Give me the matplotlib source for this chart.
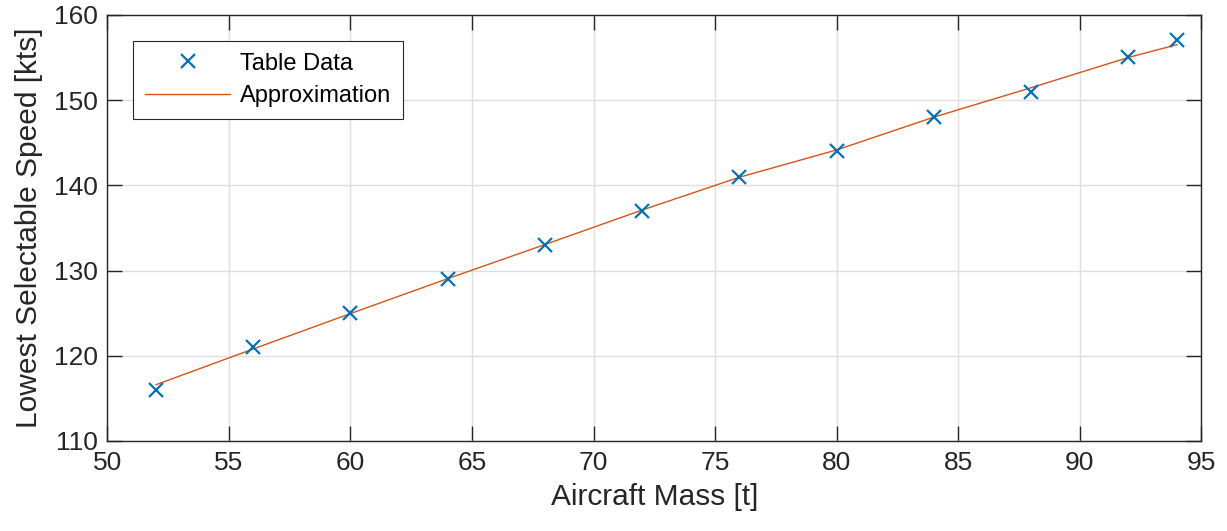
import matplotlib
matplotlib.use("Agg")
import matplotlib.pyplot as plt

# Table data: aircraft mass [t] vs lowest selectable speed [kts]
mass = [52, 56, 60, 64, 68, 72, 76, 80, 84, 88, 92, 94]
speed = [116, 121, 125, 129, 133, 137, 141, 144, 148, 151, 155, 157]

# Approximation curve evaluated at the table masses
approx_mass = [52, 56, 60, 64, 68, 72, 76, 80, 84, 88, 92, 94]
approx_speed = [116.6, 120.8, 124.95, 129.05, 133.05, 137.1, 140.95,
                144.15, 148.0, 151.45, 155.0, 156.5]

x_ticks = [50, 55, 60, 65, 70, 75, 80, 85, 90, 95]
y_ticks = [110, 120, 130, 140, 150, 160]

plt.rcParams["font.family"] = ["Liberation Sans", "DejaVu Sans"]

blue = "#0072BD"
orange = "#D95319"
axis_col = "#262626"

fig = plt.figure(figsize=(12.27, 5.31), dpi=100)
ax = fig.add_axes([0.0875, 0.1695, 0.8915, 0.8025])

ax.plot(mass, speed, linestyle="none", marker="x", markersize=10.5,
        markeredgewidth=1.6, color=blue, label="Table Data", zorder=3)
ax.plot(approx_mass, approx_speed, color=orange, linewidth=1.0,
        label="Approximation", zorder=2)

ax.set_xlim(50, 95)
ax.set_ylim(110, 160)
ax.set_xticks(x_ticks)
ax.set_yticks(y_ticks)

ax.grid(True, color="#dfdfdf", linewidth=1.0)
ax.set_axisbelow(True)

for s in ax.spines.values():
    s.set_color(axis_col)
    s.set_linewidth(1.0)

ax.tick_params(direction="in", length=11, width=1.0, colors=axis_col,
               labelsize=19, top=True, right=True, pad=7)
for lbl in ax.get_xticklabels() + ax.get_yticklabels():
    lbl.set_color(axis_col)

ax.set_xlabel("Aircraft Mass [t]", fontsize=21.5, color=axis_col, labelpad=6)
ax.set_ylabel("Lowest Selectable Speed [kts]", fontsize=21.5, color=axis_col,
              labelpad=8)

leg = ax.legend(loc="upper left", bbox_to_anchor=(0.0238, 0.939),
                fontsize=17, frameon=True, fancybox=False,
                edgecolor=axis_col, framealpha=1.0, handlelength=3.6,
                borderpad=0.5, labelspacing=0.45, handletextpad=0.4,
                borderaxespad=0.0)
leg.get_frame().set_linewidth(0.8)

fig.savefig("out.png", dpi=100)
